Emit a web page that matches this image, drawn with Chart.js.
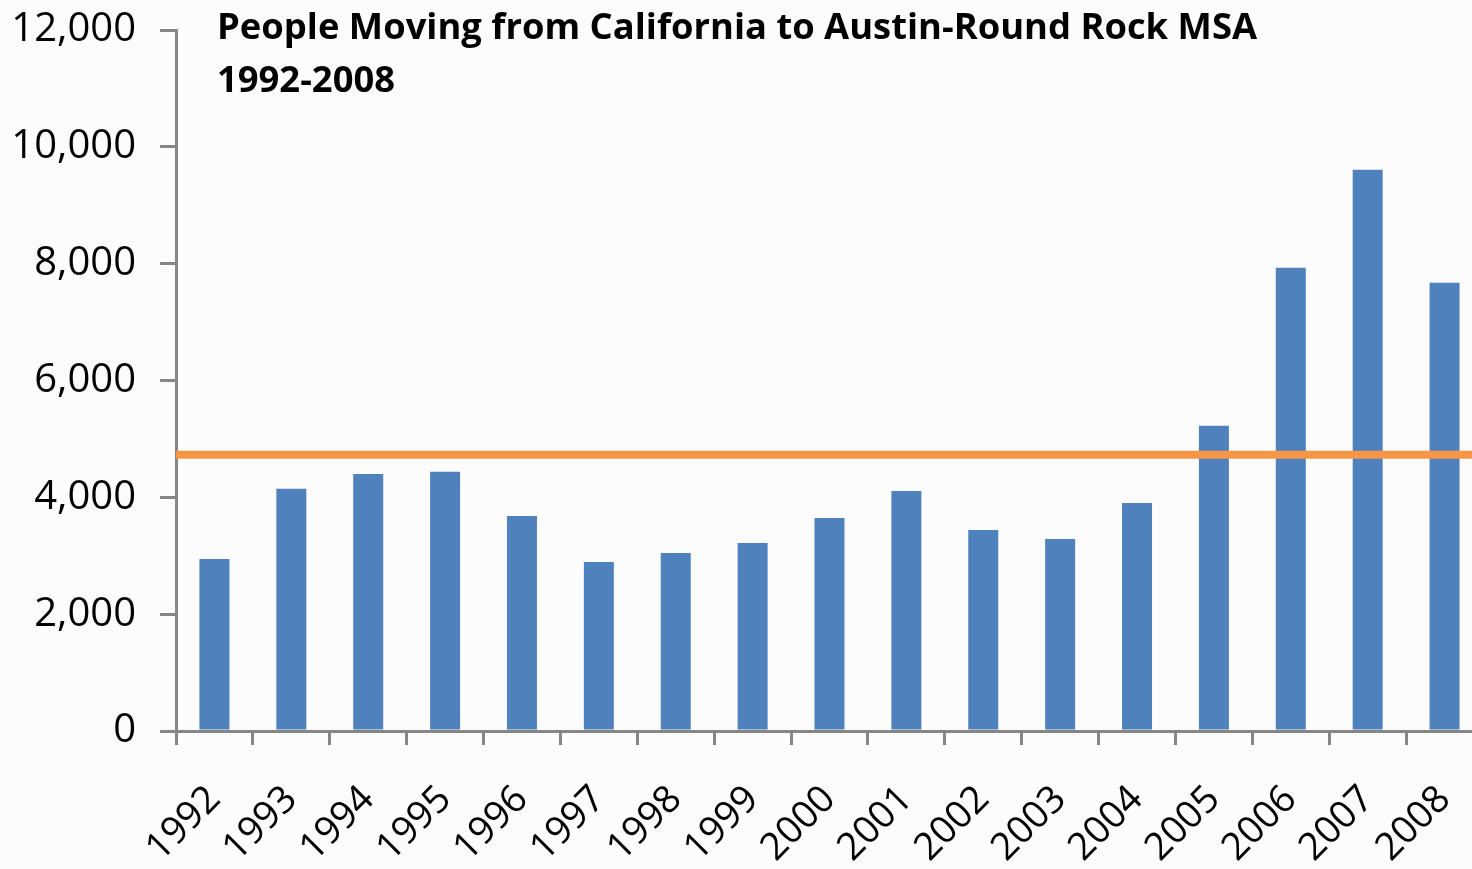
<!DOCTYPE html>
<html>
<head>
<meta charset="utf-8">
<script src="https://cdn.jsdelivr.net/npm/chart.js@4.4.1/dist/chart.umd.min.js"></script>
<style>
  html, body { margin: 0; padding: 0; background: #fcfcfc; overflow: hidden; width: 1472px; height: 869px; }
  #wrap { position: absolute; left: 0; top: 0; width: 1490px; height: 869px; }
</style>
</head>
<body>
<div id="wrap"><canvas id="c" width="1490" height="869"></canvas></div>
<script>
const titleLines = ['People Moving from California to Austin-Round Rock MSA', '1992-2008'];
const years = ['1992','1993','1994','1995','1996','1997','1998','1999','2000','2001','2002','2003','2004','2005','2006','2007','2008'];
const movers = [2946, 4145, 4401, 4436, 3682, 2894, 3048, 3220, 3648, 4110, 3442, 3288, 3905, 5224, 7930, 9608, 7673];
const referenceLevel = 4730;
const yTicks = [0, 2000, 4000, 6000, 8000, 10000, 12000];

const FONT = '"Open Sans", "Liberation Sans", sans-serif';
const AXIS_GRAY = '#868686';

const titlePlugin = {
  id: 'insideTitle',
  afterDraw(chart) {
    const ctx = chart.ctx;
    ctx.save();
    ctx.fillStyle = '#000';
    ctx.textAlign = 'left';
    ctx.textBaseline = 'alphabetic';
    let size = 36;
    ctx.font = 'bold ' + size + 'px ' + FONT;
    const w = ctx.measureText(titleLines[0]).width;
    size = size * 1040 / w;
    ctx.font = 'bold ' + size.toFixed(2) + 'px ' + FONT;
    ctx.fillText(titleLines[0], 217, 39);
    ctx.fillText(titleLines[1], 217, 92);
    ctx.restore();
  }
};

new Chart(document.getElementById('c'), {
  data: {
    labels: years,
    datasets: [
      {
        type: 'line',
        xAxisID: 'x2',
        order: 0,
        data: [{x: 0, y: referenceLevel}, {x: 1, y: referenceLevel}],
        borderColor: '#F79646',
        borderWidth: 8,
        borderCapStyle: 'butt',
        pointRadius: 0,
        fill: false
      },
      {
        type: 'bar',
        xAxisID: 'x',
        order: 1,
        grouped: false,
        data: movers,
        backgroundColor: '#4F81BD',
        borderWidth: 0,
        categoryPercentage: 1.0,
        barPercentage: 0.39
      }
    ]
  },
  options: {
    responsive: false,
    animation: false,
    devicePixelRatio: 1,
    layout: { padding: { top: 30, right: 7, left: 0, bottom: 0 } },
    plugins: { legend: { display: false }, tooltip: { enabled: false }, title: { display: false } },
    scales: {
      x: {
        type: 'category',
        offset: true,
        grid: { display: true, drawOnChartArea: false, drawTicks: true, tickLength: 14, color: AXIS_GRAY, lineWidth: 3, offset: true },
        border: { display: true, color: AXIS_GRAY, width: 3 },
        ticks: {
          autoSkip: false, maxRotation: 45, minRotation: 45, padding: 32,
          color: '#000', font: { family: FONT, size: 38 }
        },
        afterFit(scale) { scale.height = 138; scale.paddingLeft = 0; scale.paddingRight = 0; }
      },
      x2: {
        type: 'linear', display: false, min: 0, max: 1, offset: false
      },
      y: {
        min: 0, max: 12000,
        afterBuildTicks(scale) { scale.ticks = yTicks.map(v => ({ value: v })); },
        grid: { display: true, drawOnChartArea: false, drawTicks: true, tickLength: 16, color: AXIS_GRAY, lineWidth: 3 },
        border: { display: true, color: AXIS_GRAY, width: 3 },
        ticks: {
          padding: 24, color: '#000', font: { family: FONT, size: 40 },
          callback: v => Number(v).toLocaleString('en-US')
        },
        afterFit(scale) { scale.width = 176; scale.paddingTop = 0; scale.paddingBottom = 0; }
      }
    }
  },
  plugins: [titlePlugin]
});
</script>
</body>
</html>
